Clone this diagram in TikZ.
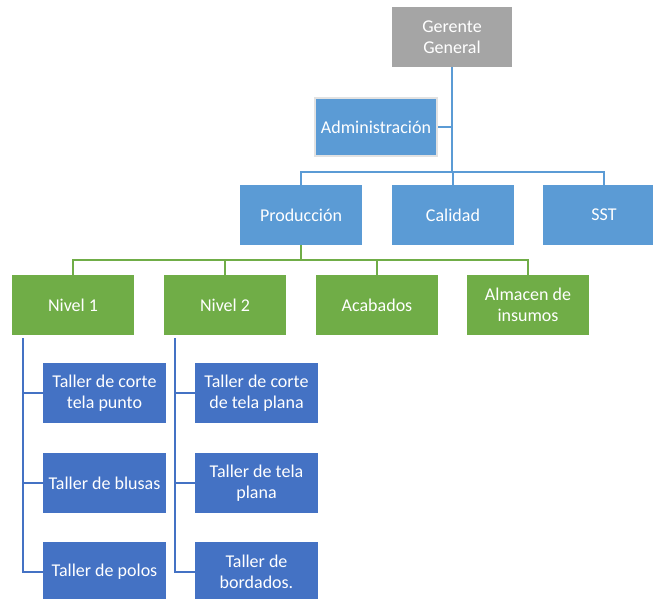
\documentclass[tikz,border=0pt]{standalone}
\usepackage{fontspec}
\setmainfont{Carlito}
\definecolor{ggray}{HTML}{A5A5A5}
\definecolor{lblue}{HTML}{5B9BD5}
\definecolor{ggreen}{HTML}{70AD47}
\definecolor{dblue}{HTML}{4472C4}
\definecolor{bordergray}{HTML}{E2E2E2}
\begin{document}
\begin{tikzpicture}[x=1pt,y=-1pt,
  box/.style={minimum width=122pt,minimum height=60pt,inner sep=0pt,align=center,
    text=white,font=\fontsize{18}{21}\selectfont},
  graybox/.style={box,fill=ggray,minimum width=120pt},
  lbox/.style={box,fill=lblue},
  gbox/.style={box,fill=ggreen},
  dbox/.style={box,fill=dblue,minimum width=123pt},
  lline/.style={draw=lblue,line width=2.2pt},
  gline/.style={draw=ggreen,line width=2.2pt},
  dline/.style={draw=dblue,line width=2.2pt}]
\useasboundingbox (0,0) rectangle (653,599);
\clip (0,0) rectangle (653,599);
% nodes
\node[graybox] (ger) at (452,37) {Gerente\\General};
\node[lbox,draw=bordergray,line width=2pt,minimum width=122pt,minimum height=58pt] (adm) at (376,127) {Administración};
\node[lbox] (prod) at (301,215) {Producción};
\node[lbox] (cal) at (453,215) {Calidad};
\node[lbox] (sst) at (604,215) {SST};
\node[gbox] (n1) at (73,305) {Nivel 1};
\node[gbox] (n2) at (225,305) {Nivel 2};
\node[gbox] (acab) at (377,305) {Acabados};
\node[gbox] (alm) at (528,305) {Almacen de\\insumos};
\node[dbox] (t11) at (104.5,393) {Taller de corte\\tela punto};
\node[dbox] (t12) at (104.5,483) {Taller de blusas};
\node[dbox] (t13) at (104.5,572) {Taller de polos};
\node[dbox] (t21) at (256.5,393) {Taller de corte\\de tela plana};
\node[dbox] (t22) at (256.5,483) {Taller de tela\\plana};
\node[dbox] (t23) at (256.5,572) {Taller de\\bordados.};
% top connectors
\coordinate (busT) at (452,172);
\path[lline] (ger.south) -- (busT);
\path[lline] (adm.east) -- (adm.east -| ger.south);
\path[lline] (prod.north) |- (busT) -| (sst.north);
\path[lline] (cal.north) -- (cal.north |- busT);
% green connectors
\coordinate (busG) at (301,260);
\path[gline] (prod.south) -- (busG);
\path[gline] (n1.north) |- (busG) -| (alm.north);
\path[gline] (n2.north) -- (n2.north |- busG);
\path[gline] (acab.north) -- (acab.north |- busG);
% dark blue connectors
\coordinate (v1) at (23,338);
\coordinate (v2) at (175,338);
\path[dline] (v1) |- (t13.west);
\path[dline] (v1 |- t11.west) -- (t11.west);
\path[dline] (v1 |- t12.west) -- (t12.west);
\path[dline] (v2) |- (t23.west);
\path[dline] (v2 |- t21.west) -- (t21.west);
\path[dline] (v2 |- t22.west) -- (t22.west);
\end{tikzpicture}
\end{document}
